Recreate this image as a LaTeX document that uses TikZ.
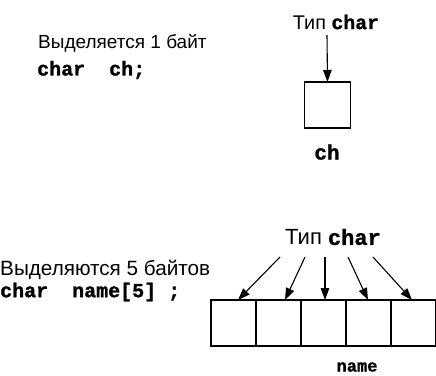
\documentclass[tikz,border=0pt]{standalone}
\usepackage{fontspec}
\setmainfont{Liberation Sans}
\setmonofont{Liberation Mono}[BoldFeatures={FakeBold=1.2}]
\usetikzlibrary{arrows.meta}
\begin{document}
\begin{tikzpicture}[x=1pt,y=-1pt,
  cell/.style={draw,line width=1.6pt,minimum width=45pt,minimum height=46pt,inner sep=0pt,outer sep=0pt},
  ptr/.style={line width=1.1pt,-{Triangle[length=12pt,width=8.5pt]}},
  lbl/.style={inner sep=0pt,font=\fontsize{#1}{#1}\selectfont},
  code/.style={inner sep=0pt,font=\fontsize{#1}{#1}\selectfont\ttfamily\bfseries}]
\useasboundingbox (0,0) rectangle (436,375);

% single char variable
\node[lbl=19,anchor=west] (t1) at (38,43) {Выделяется 1 байт};
\node[code=20,anchor=west] (c1) at (37,70) {char\ \ ch;};
\node[lbl=19.8] (ty1) at (336,22) {Тип {\ttfamily\bfseries char}};
\node[cell,minimum width=46pt] (ch) at (327.5,105) {};
\node[code=21] (chn) at (327,152) {ch};
\draw[ptr] (327,35) -- (ch.north);

% array of five chars
\node[lbl=20.7,anchor=west] (t2) at (0,270) {Выделяются 5 байтов};
\node[code=20,anchor=west] (c2) at (0,292) {char\ \ name[5]\ ;};
\node[lbl=22] (ty2) at (333,237) {Тип {\ttfamily\bfseries char}};
\foreach \i in {0,...,4} {
  \node[cell] (a\i) at ({233.5+\i*45},323) {};
}
\node[code=17] (an) at (357,367) {name};
\coordinate (s0) at (280,257);
\coordinate (s1) at (305,257);
\coordinate (s2) at (325,257);
\coordinate (s3) at (348,257);
\coordinate (s4) at (373,257);
\draw[ptr] (s0) -- (238,300);
\draw[ptr] (s1) -- (285,300);
\draw[ptr] (s2) -- (325,300);
\draw[ptr] (s3) -- (368,300);
\draw[ptr] (s4) -- (412,300);
\end{tikzpicture}
\end{document}
